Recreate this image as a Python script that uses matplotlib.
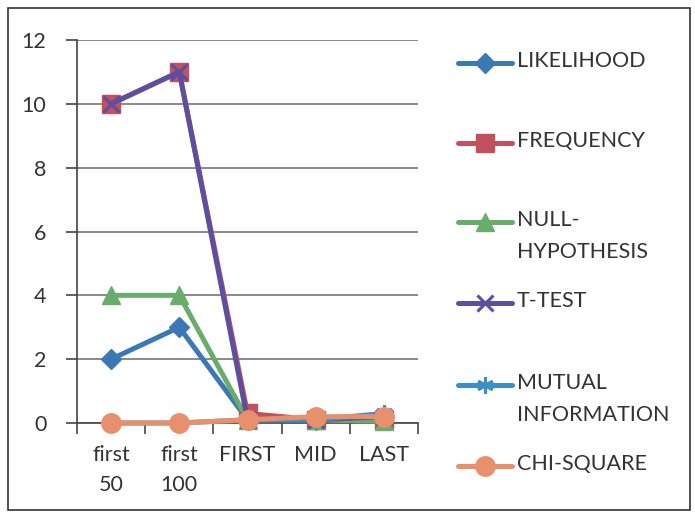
import matplotlib.pyplot as plt
from matplotlib.lines import Line2D
from matplotlib.patches import Rectangle

plt.rcParams['font.family'] = ['Lato', 'DejaVu Sans']

# данные
categories = ['first\n50', 'first\n100', 'FIRST', 'MID', 'LAST']
series_names = ['LIKELIHOOD', 'FREQUENCY', 'NULL-\nHYPOTHESIS', 'T-TEST', 'MUTUAL\nINFORMATION', 'CHI-SQUARE']
likelihood = [2, 3, 0.1, 0.1, 0.2]
frequency = [10, 11, 0.3, 0.1, 0.1]
null_hyp = [4, 4, 0.1, 0.1, 0.05]
t_test = [10, 11, 0.1, 0.1, 0.2]
mutual_info = [0, 0, 0.1, 0.1, 0.3]
chi_square = [0, 0, 0.1, 0.2, 0.2]

values = [likelihood, frequency, null_hyp, t_test, mutual_info, chi_square]
colors = ['#3b78b6', '#c2505e', '#69ad6c', '#5d4f9f', '#3c8fc6', '#e8906c']
markers = ['D', 's', '^', 'x', (6, 2, 0), 'o']
msizes = [10, 13, 13, 12, 12, 14]

fig = plt.figure(figsize=(6.95, 5.17), dpi=100)
fig.patches.append(Rectangle((8 / 695, 7 / 517), 682 / 695, 502 / 517, transform=fig.transFigure,
                             fill=False, edgecolor='#333333', linewidth=1.2))
ax = fig.add_axes([77 / 695, 1 - 423 / 517, 341 / 695, 383 / 517])

x = list(range(len(categories)))
for vals, name, c, m, ms in zip(values, series_names, colors, markers, msizes):
    mew = 2.2 if m in ('x',) or isinstance(m, tuple) else 1
    ax.plot(x, vals, color=c, lw=3.6, marker=m, markersize=ms,
            markeredgewidth=mew, markeredgecolor=c, markerfacecolor=c,
            solid_joinstyle='miter', label=name, clip_on=False, zorder=3)

ax.set_xlim(-0.5, 4.5)
ax.set_ylim(0, 12)
ax.set_yticks(range(0, 13, 2))
ax.yaxis.grid(True, color='#6a6a6a', linewidth=1.1)
ax.set_axisbelow(True)
for s in ['top', 'right']:
    ax.spines[s].set_visible(False)
ax.spines['left'].set_color('#444444')
ax.spines['bottom'].set_color('#444444')
ax.spines['left'].set_linewidth(1.2)
ax.spines['bottom'].set_linewidth(1.2)

# тики между категориями
ax.set_xticks([i + 0.5 for i in range(-1, 5)], minor=False)
ax.set_xticklabels([])
ax.set_xticks(x, minor=True)
ax.set_xticklabels(categories, minor=True, fontsize=15.5, color='#333333', linespacing=1.6)
ax.tick_params(axis='x', which='minor', length=0, pad=16)
ax.tick_params(axis='x', which='major', length=8, width=1.2, color='#444444', direction='out')
ax.tick_params(axis='y', length=8, width=1.2, color='#444444', labelsize=15.5,
               labelcolor='#333333', pad=14)

# легенда вручную
leg_y = [63, 143, 222, 303, 385, 466]
for name, c, m, ms, y in zip(series_names, colors, markers, msizes, leg_y):
    yf = 1 - y / 517
    mew = 2.2 if m in ('x',) or isinstance(m, tuple) else 1
    fig.add_artist(Line2D([458 / 695, 512 / 695], [yf, yf], transform=fig.transFigure,
                          color=c, lw=3.6, solid_capstyle='round'))
    fig.add_artist(Line2D([485 / 695], [yf], transform=fig.transFigure, color=c,
                          marker=m, markersize=ms, markeredgewidth=mew,
                          markeredgecolor=c, markerfacecolor=c))
    fig.text(517 / 695, yf + 12 / 517, name, fontsize=15.5, color='#333333', va='top',
             linespacing=1.75, transform=fig.transFigure)

fig.savefig('out.png', dpi=100)
